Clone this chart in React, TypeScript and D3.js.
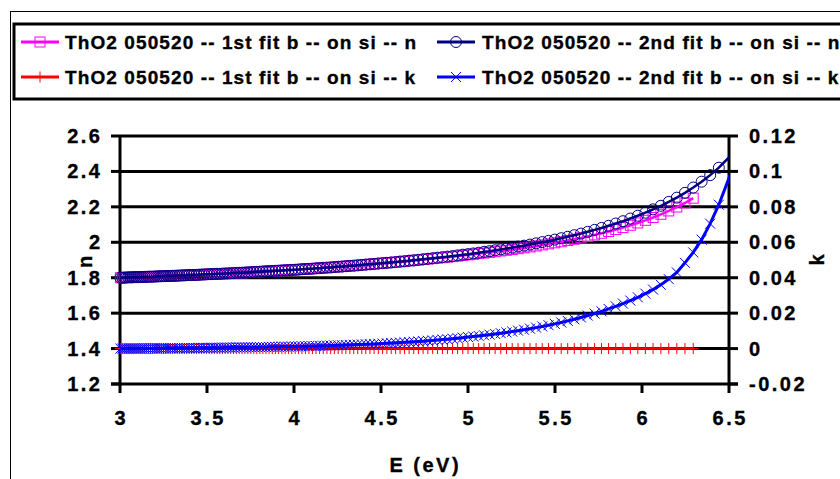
import React from 'react';
import * as d3 from 'd3';

// Photon energy (eV) of each measured point (shared sampling grid)
const energy = [
  3.0024, 3.0134, 3.0244, 3.0355, 3.0467, 3.0580, 3.0693, 3.0807, 3.0923, 3.1039,
  3.1156, 3.1274, 3.1392, 3.1512, 3.1633, 3.1754, 3.1877, 3.2000, 3.2124, 3.2250,
  3.2376, 3.2503, 3.2632, 3.2761, 3.2891, 3.3023, 3.3155, 3.3289, 3.3423, 3.3559,
  3.3696, 3.3834, 3.3973, 3.4113, 3.4254, 3.4397, 3.4540, 3.4685, 3.4831, 3.4979,
  3.5127, 3.5277, 3.5429, 3.5581, 3.5735, 3.5890, 3.6047, 3.6204, 3.6364, 3.6524,
  3.6686, 3.6850, 3.7015, 3.7181, 3.7349, 3.7519, 3.7690, 3.7863, 3.8037, 3.8213,
  3.8390, 3.8569, 3.8750, 3.8932, 3.9117, 3.9303, 3.9490, 3.9680, 3.9871, 4.0065,
  4.0260, 4.0457, 4.0656, 4.0857, 4.1060, 4.1265, 4.1472, 4.1681, 4.1892, 4.2105,
  4.2321, 4.2539, 4.2759, 4.2981, 4.3206, 4.3433, 4.3662, 4.3894, 4.4128, 4.4365,
  4.4604, 4.4846, 4.5091, 4.5338, 4.5588, 4.5841, 4.6097, 4.6355, 4.6617, 4.6881,
  4.7148, 4.7419, 4.7692, 4.7969, 4.8249, 4.8532, 4.8819, 4.9109, 4.9402, 4.9699,
  5.0000, 5.0304, 5.0612, 5.0924, 5.1240, 5.1559, 5.1883, 5.2211, 5.2542, 5.2878,
  5.3219, 5.3564, 5.3913, 5.4267, 5.4626, 5.4989, 5.5357, 5.5730, 5.6109, 5.6492,
  5.6881, 5.7275, 5.7674, 5.8080, 5.8491, 5.8907, 5.9330, 5.9759, 6.0194, 6.0636,
  6.1084, 6.1538, 6.2000, 6.2469, 6.2944, 6.3427, 6.3918, 6.4416, 6.5435,
];

// ThO2 050520 -- 1st fit b -- on si -- n
const nFit1 = [
  1.800, 1.800, 1.801, 1.801, 1.802, 1.802, 1.802, 1.803, 1.803, 1.803,
  1.804, 1.804, 1.805, 1.805, 1.806, 1.806, 1.806, 1.807, 1.807, 1.808,
  1.808, 1.809, 1.809, 1.810, 1.810, 1.811, 1.811, 1.812, 1.812, 1.813,
  1.813, 1.814, 1.815, 1.815, 1.816, 1.816, 1.817, 1.818, 1.818, 1.819,
  1.820, 1.820, 1.821, 1.822, 1.822, 1.823, 1.824, 1.824, 1.825, 1.826,
  1.827, 1.828, 1.828, 1.829, 1.830, 1.831, 1.832, 1.833, 1.834, 1.835,
  1.836, 1.837, 1.838, 1.839, 1.840, 1.841, 1.842, 1.843, 1.844, 1.845,
  1.846, 1.848, 1.849, 1.850, 1.851, 1.853, 1.854, 1.856, 1.857, 1.858,
  1.860, 1.862, 1.863, 1.865, 1.867, 1.868, 1.870, 1.872, 1.874, 1.876,
  1.878, 1.880, 1.882, 1.884, 1.886, 1.888, 1.890, 1.893, 1.895, 1.898,
  1.900, 1.903, 1.905, 1.908, 1.911, 1.913, 1.916, 1.919, 1.922, 1.926,
  1.929, 1.932, 1.936, 1.939, 1.943, 1.947, 1.951, 1.955, 1.959, 1.964,
  1.969, 1.974, 1.979, 1.985, 1.991, 1.997, 2.003, 2.010, 2.017, 2.025,
  2.033, 2.042, 2.051, 2.061, 2.072, 2.083, 2.096, 2.109, 2.124, 2.140,
  2.158, 2.177, 2.199, 2.222, 2.249,
];

// ThO2 050520 -- 2nd fit b -- on si -- n
const nFit2 = [
  1.800, 1.800, 1.801, 1.801, 1.802, 1.802, 1.802, 1.803, 1.803, 1.803,
  1.804, 1.804, 1.805, 1.805, 1.806, 1.806, 1.806, 1.807, 1.807, 1.808,
  1.808, 1.809, 1.809, 1.810, 1.810, 1.811, 1.811, 1.812, 1.812, 1.813,
  1.813, 1.814, 1.815, 1.815, 1.816, 1.816, 1.817, 1.818, 1.818, 1.819,
  1.820, 1.820, 1.821, 1.822, 1.822, 1.823, 1.824, 1.824, 1.825, 1.826,
  1.827, 1.828, 1.828, 1.829, 1.830, 1.831, 1.832, 1.833, 1.834, 1.835,
  1.836, 1.837, 1.838, 1.839, 1.840, 1.841, 1.842, 1.843, 1.844, 1.845,
  1.846, 1.848, 1.849, 1.850, 1.851, 1.853, 1.854, 1.856, 1.857, 1.858,
  1.860, 1.862, 1.863, 1.865, 1.867, 1.868, 1.870, 1.872, 1.874, 1.876,
  1.878, 1.880, 1.882, 1.884, 1.886, 1.888, 1.891, 1.893, 1.896, 1.898,
  1.901, 1.904, 1.907, 1.910, 1.913, 1.916, 1.919, 1.922, 1.926, 1.930,
  1.933, 1.937, 1.941, 1.946, 1.950, 1.955, 1.960, 1.965, 1.970, 1.976,
  1.981, 1.987, 1.994, 2.001, 2.008, 2.015, 2.023, 2.031, 2.040, 2.049,
  2.059, 2.070, 2.081, 2.093, 2.106, 2.119, 2.134, 2.150, 2.167, 2.186,
  2.206, 2.228, 2.252, 2.279, 2.309, 2.342, 2.379, 2.421, 2.523,
];

// ThO2 050520 -- 1st fit b -- on si -- k
const kFit1 = [
  0, 0, 0, 0, 0, 0, 0, 0, 0, 0, 0, 0, 0, 0, 0, 0, 0, 0, 0, 0,
  0, 0, 0, 0, 0, 0, 0, 0, 0, 0, 0, 0, 0, 0, 0, 0, 0, 0, 0, 0,
  0, 0, 0, 0, 0, 0, 0, 0, 0, 0, 0, 0, 0, 0, 0, 0, 0, 0, 0, 0,
  0, 0, 0, 0, 0, 0, 0, 0, 0, 0, 0, 0, 0, 0, 0, 0, 0, 0, 0, 0,
  0, 0, 0, 0, 0, 0, 0, 0, 0, 0, 0, 0, 0, 0, 0, 0, 0, 0, 0, 0,
  0, 0, 0, 0, 0, 0, 0, 0, 0, 0, 0, 0, 0, 0, 0, 0, 0, 0, 0, 0,
  0, 0, 0, 0, 0, 0, 0, 0, 0, 0, 0, 0, 0, 0, 0, 0, 0, 0, 0, 0,
  0, 0, 0, 0, 0,
];

// ThO2 050520 -- 2nd fit b -- on si -- k
const kFit2 = [
  0, 0, 0, 0, 0, 0, 0, 0, 0, 0, 0,
  0.0001, 0.0001, 0.0001, 0.0001, 0.0001, 0.0001, 0.0001, 0.0001, 0.0001, 0.0001,
  0.0002, 0.0002, 0.0002, 0.0002, 0.0002, 0.0002, 0.0002, 0.0002,
  0.0003, 0.0003, 0.0003, 0.0003, 0.0003, 0.0003, 0.0003,
  0.0004, 0.0004, 0.0004, 0.0004, 0.0004,
  0.0005, 0.0005, 0.0005, 0.0005, 0.0005,
  0.0006, 0.0006, 0.0006, 0.0006,
  0.0007, 0.0007, 0.0007, 0.0007,
  0.0008, 0.0008, 0.0008, 0.0008,
  0.0009, 0.0009, 0.0009,
  0.0010, 0.0010, 0.0010, 0.0010,
  0.0011, 0.0011, 0.0011,
  0.0012,
  0.00121, 0.00125, 0.00130, 0.00134, 0.00139, 0.00144, 0.00149, 0.00154, 0.00159, 0.00165,
  0.00171, 0.00178, 0.00184, 0.00191, 0.00199, 0.00206, 0.00214, 0.00223, 0.00232, 0.00241,
  0.00251, 0.00261, 0.00272, 0.00284, 0.00296, 0.00308, 0.00322, 0.00336, 0.00351, 0.00367,
  0.00384, 0.00401, 0.00420, 0.00440, 0.00461, 0.00483, 0.00507, 0.00532, 0.00559, 0.00587,
  0.00617, 0.00650,
  0.00681, 0.00714, 0.00749, 0.00786, 0.00825, 0.00867, 0.00912, 0.00959, 0.01010, 0.01064,
  0.01121, 0.01183, 0.01249, 0.01319, 0.01395, 0.01475, 0.01562, 0.01655, 0.01755, 0.01863,
  0.01978, 0.02103, 0.02238, 0.02383, 0.02539, 0.02709, 0.02893,
  0.0310, 0.0333, 0.0360, 0.0392, 0.0430, 0.0484, 0.0543, 0.0615, 0.0705, 0.0812, 0.1075,
];

const xTicks = [3, 3.5, 4, 4.5, 5, 5.5, 6, 6.5];
const nTicks = [1.2, 1.4, 1.6, 1.8, 2, 2.2, 2.4, 2.6];
const kTicks = [-0.02, 0, 0.02, 0.04, 0.06, 0.08, 0.1, 0.12];
const legendLabels = [
  'ThO2 050520 -- 1st fit b -- on si -- n',
  'ThO2 050520 -- 2nd fit b -- on si -- n',
  'ThO2 050520 -- 1st fit b -- on si -- k',
  'ThO2 050520 -- 2nd fit b -- on si -- k',
];
const xTitle = 'E (eV)';
const nTitle = 'n';
const kTitle = 'k';

const W = 840;
const H = 479;
const PL = 120, PR = 729, PT = 136, PB = 384;
const FONT = "Arial, 'Liberation Sans', sans-serif";
const FS = 20;
const LS = 2.5;
const TXT_STROKE = 0.35;

type Marker = 'square' | 'circle' | 'plus' | 'cross';

function markerPath(kind: Marker, cx: number, cy: number) {
  if (kind === 'plus') return `M${cx - 5.5},${cy}H${cx + 5.5}M${cx},${cy - 5.5}V${cy + 5.5}`;
  if (kind === 'cross') return `M${cx - 5},${cy - 5}L${cx + 5},${cy + 5}M${cx - 5},${cy + 5}L${cx + 5},${cy - 5}`;
  return '';
}

function MarkerShape({ kind, cx, cy, color }: { kind: Marker; cx: number; cy: number; color: string }) {
  if (kind === 'square') return <rect x={cx - 5} y={cy - 5} width={10} height={10} fill="none" stroke={color} strokeWidth={1} />;
  if (kind === 'circle') return <circle cx={cx} cy={cy} r={5.5} fill="none" stroke={color} strokeWidth={1} />;
  return <path d={markerPath(kind, cx, cy)} stroke={color} strokeWidth={1} fill="none" />;
}

export default function App() {
  const x = d3.scaleLinear().domain([3, 6.5]).range([PL, PR]);
  const yN = d3.scaleLinear().domain([1.2, 2.6]).range([PB, PT]);
  const yK = d3.scaleLinear().domain([-0.02, 0.12]).range([PB, PT]);

  const series = [
    { values: nFit1, y: yN, color: '#FF00FF', marker: 'square' as Marker, width: 2.5 },
    { values: nFit2, y: yN, color: '#000080', marker: 'circle' as Marker, width: 2.5 },
    { values: kFit1, y: yK, color: '#FF0000', marker: 'plus' as Marker, width: 2.5 },
    { values: kFit2, y: yK, color: '#0000FF', marker: 'cross' as Marker, width: 3 },
  ];

  const fmtN = (v: number) => String(+v.toFixed(1));
  const fmtK = (v: number) => String(+v.toFixed(2));

  const legendPos = [
    { lx: 21, tx: 65, y: 42 },
    { lx: 437, tx: 482, y: 42 },
    { lx: 21, tx: 65, y: 77 },
    { lx: 437, tx: 482, y: 77 },
  ];

  const txt = { fontFamily: FONT, fontWeight: 'bold' as const, fill: '#000', stroke: '#000', strokeWidth: TXT_STROKE };

  return (
    <svg width={W} height={H} style={{ position: 'absolute', left: 0, top: 0, background: '#fff' }}>
      <defs>
        <clipPath id="plotClip">
          <rect x={0} y={0} width={PR} height={H} />
        </clipPath>
      </defs>
      <rect x={0} y={0} width={W} height={H} fill="#fff" />
      {/* chart area border */}
      <rect x={10.5} y={11.5} width={W} height={H} fill="none" stroke="#000" strokeWidth={1} />

      {/* legend */}
      <rect x={14} y={24} width={W} height={75} fill="#fff" stroke="#000" strokeWidth={3} />
      {series.map((s, i) => {
        const p = legendPos[i];
        return (
          <g key={'leg' + i}>
            <line x1={p.lx} x2={p.lx + 38} y1={p.y} y2={p.y} stroke={s.color} strokeWidth={3} />
            <MarkerShape kind={s.marker} cx={p.lx + 19} cy={p.y} color={s.color} />
            <text x={p.tx} y={p.y + 7} {...txt} fontSize={19} letterSpacing={1.1}>
              {legendLabels[i]}
            </text>
          </g>
        );
      })}

      {/* gridlines */}
      {nTicks.filter((t) => t > 1.2).map((t) => (
        <line key={'g' + t} x1={PL} x2={PR} y1={yN(t)} y2={yN(t)} stroke="#000" strokeWidth={3} />
      ))}

      {/* axes */}
      <line x1={PL} x2={PL} y1={PT} y2={PB + 1.5} stroke="#000" strokeWidth={3} />
      <line x1={PR} x2={PR} y1={PT} y2={PB + 1.5} stroke="#000" strokeWidth={3} />
      <line x1={PL - 9} x2={PR + 9} y1={PB} y2={PB} stroke="#000" strokeWidth={3} />
      {nTicks.map((t) => (
        <g key={'nt' + t}>
          <line x1={PL - 9} x2={PL} y1={yN(t)} y2={yN(t)} stroke="#000" strokeWidth={3} />
          <text x={100 + LS} y={yN(t) + 7} textAnchor="end" {...txt} fontSize={FS} letterSpacing={LS}>
            {fmtN(t)}
          </text>
        </g>
      ))}
      {kTicks.map((t) => (
        <g key={'kt' + t}>
          <line x1={PR} x2={PR + 9} y1={yK(t)} y2={yK(t)} stroke="#000" strokeWidth={3} />
          <text x={749} y={yK(t) + 7} textAnchor="start" {...txt} fontSize={FS} letterSpacing={LS}>
            {fmtK(t)}
          </text>
        </g>
      ))}
      {xTicks.map((t) => (
        <g key={'xt' + t}>
          <line x1={x(t)} x2={x(t)} y1={PB} y2={PB + 9} stroke="#000" strokeWidth={3} />
          <text x={x(t) + LS / 2} y={425} textAnchor="middle" {...txt} fontSize={FS} letterSpacing={LS}>
            {t}
          </text>
        </g>
      ))}

      {/* axis titles */}
      <text x={424 + LS / 2} y={472} textAnchor="middle" {...txt} fontSize={FS} letterSpacing={LS}>
        {xTitle}
      </text>
      <text transform={`translate(92,262) rotate(-90)`} textAnchor="middle" {...txt} fontSize={FS}>
        {nTitle}
      </text>
      <text transform={`translate(824,260) rotate(-90)`} textAnchor="middle" {...txt} fontSize={FS}>
        {kTitle}
      </text>

      {/* series */}
      {series.map((s, i) => {
        const pts = s.values.map((v, j) => [energy[j], v] as [number, number]);
        const line = d3
          .line<[number, number]>()
          .x((d) => x(d[0]))
          .y((d) => s.y(d[1]));
        return (
          <g key={'s' + i}>
            <path d={line(pts) || ''} fill="none" stroke={s.color} strokeWidth={s.width} clipPath="url(#plotClip)" />
            {pts
              .filter((d) => d[0] <= 6.5)
              .map((d, j) => (
                <MarkerShape key={j} kind={s.marker} cx={x(d[0])} cy={s.y(d[1])} color={s.color} />
              ))}
          </g>
        );
      })}
    </svg>
  );
}
